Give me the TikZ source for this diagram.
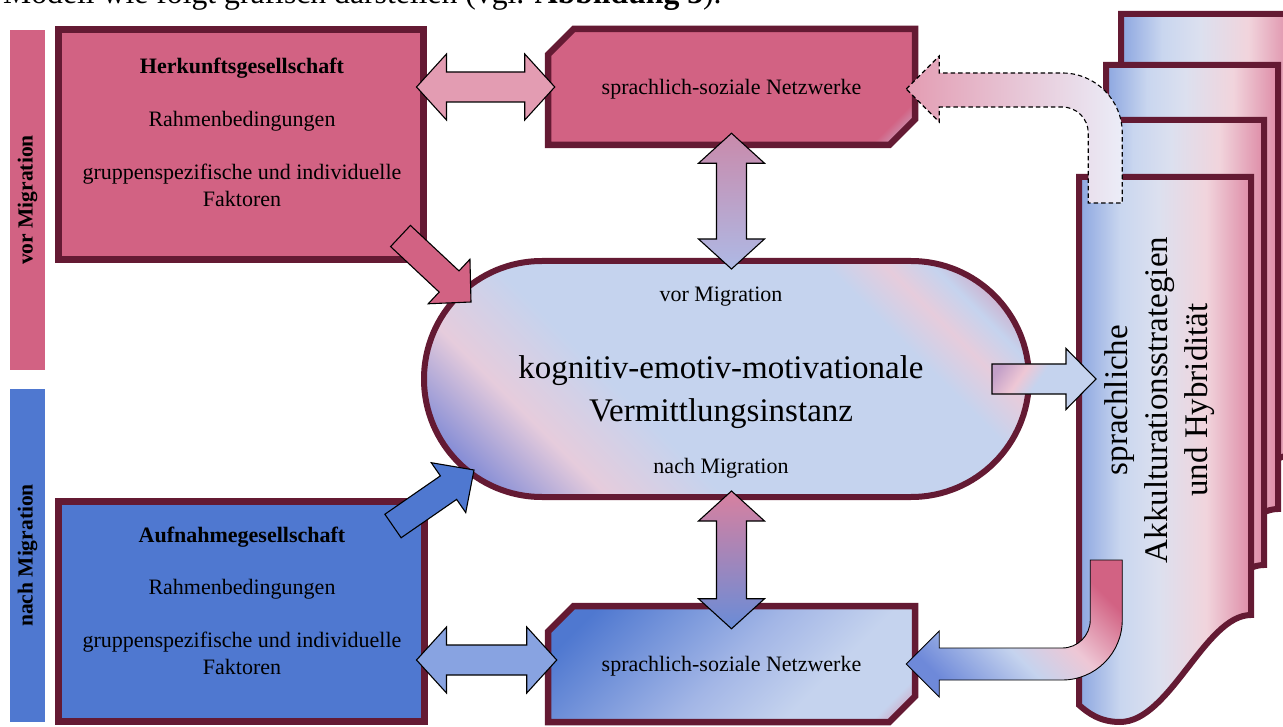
\documentclass[tikz,border=0pt]{standalone}
\usepackage{fontspec}
\setmainfont{Liberation Serif}
\usetikzlibrary{calc,shapes.misc}

% palette
\definecolor{rose}{HTML}{D26283}
\definecolor{royal}{HTML}{4F78D0}
\definecolor{wine}{HTML}{641A33}
\definecolor{paleblue}{HTML}{C5D3EE}
\definecolor{midblue}{HTML}{A3B6E6}
\definecolor{softrose}{HTML}{E39CB2}
\definecolor{softblue}{HTML}{88A3E1}
\definecolor{sheetA}{HTML}{8CA6E0}
\definecolor{sheetB}{HTML}{C9D6EF}
\definecolor{sheetC}{HTML}{DCE0EF}
\definecolor{sheetD}{HTML}{F1D4DC}
\definecolor{sheetE}{HTML}{DE8CA7}
\definecolor{violet}{HTML}{7F89D5}
\definecolor{blush}{HTML}{EEC7D5}
\definecolor{softblush}{HTML}{E6CCDC}
\definecolor{deeprose}{HTML}{D8809F}
\definecolor{mauve}{HTML}{C3A0C8}
\definecolor{pale}{HTML}{EBEDF8}
\definecolor{periwinkle}{HTML}{6E89D9}
\definecolor{pinkish}{HTML}{C98AAB}
\definecolor{lavender}{HTML}{AEB9E5}

% shadings
\pgfdeclarehorizontalshading{sheetshade}{100bp}{color(0bp)=(sheetA); color(25bp)=(sheetA); color(37bp)=(sheetB); color(48bp)=(sheetC); color(62bp)=(sheetD); color(75bp)=(sheetE); color(100bp)=(sheetE)}
\pgfdeclarehorizontalshading{hubshade}{100bp}{color(0bp)=(violet); color(20bp)=(violet); color(30bp)=(softblush); color(40bp)=(paleblue); color(68bp)=(paleblue); color(73bp)=(softblush); color(77bp)=(paleblue); color(84bp)=(deeprose); color(100bp)=(deeprose)}
\pgfdeclarehorizontalshading{roseboxshade}{100bp}{color(0bp)=(rose); color(79bp)=(rose); color(86bp)=(paleblue); color(100bp)=(paleblue)}
\pgfdeclarehorizontalshading{blueboxshade}{100bp}{color(0bp)=(royal); color(22bp)=(royal); color(50bp)=(midblue); color(66bp)=(paleblue); color(79bp)=(paleblue); color(86bp)=(deeprose); color(100bp)=(deeprose)}
\pgfdeclarehorizontalshading{pointershade}{100bp}{color(0bp)=(mauve); color(25bp)=(mauve); color(38bp)=(blush); color(48bp)=(paleblue); color(78bp)=(paleblue); color(86bp)=(blush); color(100bp)=(blush)}
\pgfdeclarehorizontalshading{returnshade}{100bp}{color(0bp)=(periwinkle); color(25bp)=(periwinkle); color(45bp)=(paleblue); color(58bp)=(blush); color(75bp)=(rose); color(100bp)=(rose)}

% straight block arrow from #2 to #3 (style #1, half shaft #4, half head #5, head length #6)
\newcommand{\blockarrow}[6]{%
  \coordinate (ba-s) at (#2);
  \coordinate (ba-e) at (#3);
  \coordinate (ba-h) at ($(ba-e)!#6!(ba-s)$);
  \path[#1] ($(ba-s)!#4!90:(ba-e)$) -- ($(ba-h)!#4!90:(ba-e)$) -- ($(ba-h)!#5!90:(ba-e)$)
    -- (ba-e) -- ($(ba-h)!#5!-90:(ba-e)$) -- ($(ba-h)!#4!-90:(ba-e)$) -- ($(ba-s)!#4!-90:(ba-e)$) -- cycle;}

% double-headed block arrow between #2 and #3
\newcommand{\twinarrow}[6]{%
  \coordinate (ta-s) at (#2);
  \coordinate (ta-e) at (#3);
  \coordinate (ta-h) at ($(ta-e)!#6!(ta-s)$);
  \coordinate (ta-g) at ($(ta-s)!#6!(ta-e)$);
  \path[#1] (ta-s) -- ($(ta-g)!#5!90:(ta-e)$) -- ($(ta-g)!#4!90:(ta-e)$) -- ($(ta-h)!#4!90:(ta-e)$)
    -- ($(ta-h)!#5!90:(ta-e)$) -- (ta-e) -- ($(ta-h)!#5!-90:(ta-e)$) -- ($(ta-h)!#4!-90:(ta-e)$)
    -- ($(ta-g)!#4!-90:(ta-e)$) -- ($(ta-g)!#5!-90:(ta-e)$) -- cycle;}

% one sheet of the stacked document (x offset, top edge, lower end of right edge)
\newcommand{\sheet}[3]{%
  \path[sheetstyle] (1079+#1,#2) -- (1251+#1,#2) -- (1251+#1,#3)
    .. controls (1205+#1,#3) and (1170+#1,#3+107) .. (1120+#1,#3+107)
    .. controls (1100+#1,#3+107) and (1088+#1,#3+98) .. (1079+#1,#3+90) -- cycle;}

\begin{document}
\begin{tikzpicture}[x=1pt,y=-1pt,
  txt/.style={font=\fontsize{22}{27}\selectfont, inner sep=0pt},
  bigtxt/.style={font=\fontsize{33}{40}\selectfont, inner sep=0pt},
  sidebar/.style={rotate=90, minimum height=35pt, inner sep=0pt, font=\fontsize{21.5}{25}\selectfont\bfseries},
  society/.style={draw=wine, line width=7pt, inner sep=0pt},
  network/.style={chamfered rectangle, chamfered rectangle corners={north west,south east},
    chamfered rectangle xsep=18pt, chamfered rectangle ysep=18pt, draw=wine, line width=6.5pt,
    minimum width=367pt, minimum height=116pt, inner sep=0pt, shade, shading angle=-45,
    text depth=0pt, font=\fontsize{22}{27}\selectfont},
  sheetstyle/.style={draw=wine, line width=6pt, shade, shading=sheetshade},
  arrowline/.style={draw=black, line width=1.1pt, line join=miter},
]
\useasboundingbox (0,0) rectangle (1283,727);

% running text above the figure
\node[anchor=base west, inner sep=0pt, font=\fontsize{31.7}{38}\selectfont] (lead) at (3,4)
  {Modell wie folgt grafisch darstellen (vgl. \textbf{Abbildung 3}).};

% phase bars
\node[sidebar, fill=rose, minimum width=340pt] (barpre) at (27.5,200) {vor Migration};
\node[sidebar, fill=royal, minimum width=333pt] (barpost) at (27.5,555.5) {nach Migration};

% societies
\node[society, fill=rose, minimum width=365pt, minimum height=230pt] (origin) at (241,144.5) {};
\node[society, fill=royal, minimum width=366pt, minimum height=220pt] (host) at (241.5,611.5) {};

\node[txt, anchor=base, font=\fontsize{22}{27}\selectfont\bfseries] (originname) at (242,74) {Herkunftsgesellschaft};
\node[txt, anchor=base] (originframe) at (242,127) {Rahmenbedingungen};
\node[txt, anchor=base] (originfactors) at (242,180) {gruppenspezifische und individuelle};
\node[txt, anchor=base] (originfactors2) at (242,207) {Faktoren};

\node[txt, anchor=base, font=\fontsize{22}{27}\selectfont\bfseries] (hostname) at (242,542) {Aufnahmegesellschaft};
\node[txt, anchor=base] (hostframe) at (242,594) {Rahmenbedingungen};
\node[txt, anchor=base] (hostfactors) at (242,647) {gruppenspezifische und individuelle};
\node[txt, anchor=base] (hostfactors2) at (242,674) {Faktoren};

% networks
\node[network, shading=roseboxshade] (nettop) at (731.5,87) {sprachlich-soziale Netzwerke};
\node[network, shading=blueboxshade] (netbot) at (731.5,664) {sprachlich-soziale Netzwerke};

% mediating instance
\node[draw=wine, line width=6pt, shade, shading=hubshade, shading angle=45,
  minimum width=605pt, minimum height=236pt, rounded corners=117.9pt] (hub) at (726.5,379) {};
\node[txt, anchor=base] (hubpre) at (721,302) {vor Migration};
\node[bigtxt, anchor=base] (hubtitle) at (721,379) {kognitiv-emotiv-motivationale};
\node[bigtxt, anchor=base] (hubtitle2) at (721,421) {Vermittlungsinstanz};
\node[txt, anchor=base] (hubpost) at (721,473) {nach Migration};

% stacked document of strategies
\sheet{42}{14}{455}
\sheet{27}{65}{509}
\sheet{13}{120}{565}
\sheet{0}{177}{615}
\coordinate (sheetwest) at (1079,400);
\node[bigtxt, rotate=90, align=center] (strategies) at (1160,400)
  {sprachliche\\Akkulturationsstrategien\\und Hybridität};

% returning arrows from the strategies to the networks
\draw[arrowline, dash pattern=on 4.5pt off 3pt, left color=softrose, right color=pale]
  ($(nettop.east)+(-12,2)$) -- ++(33,-33) -- ++(0,17) -- ++(123,0)
  .. controls +(33.1,0) and +(0,-33.1) .. ++(60,60) -- ++(0,70) -- ++(-34,0) -- ++(0,-70)
  .. controls +(0,-14.4) and +(14.4,0) .. ++(-26,-26) -- ++(-123,0) -- ++(0,15) -- cycle;
\draw[arrowline, line width=0.9pt, shade, shading=returnshade, shading angle=45]
  ($(netbot.east)+(-12,0)$) -- ++(33,-33) -- ++(0,17) -- ++(123,0)
  .. controls +(15.5,0) and +(0,15.5) .. ++(28,-28) -- ++(0,-60) -- ++(32,0) -- ++(0,60)
  .. controls +(0,33.1) and +(33.1,0) .. ++(-60,60) -- ++(-123,0) -- ++(0,17) -- cycle;

% exchange arrows
\twinarrow{arrowline, fill=softrose}{$(origin.east |- nettop.west)+(-10.5,0)$}{$(nettop.west)+(10,0)$}{15pt}{33pt}{30pt}
\twinarrow{arrowline, fill=softblue}{$(host.east |- netbot.west)+(-11.5,-4)$}{$(netbot.west)+(12,-4)$}{15pt}{33pt}{30pt}
\twinarrow{arrowline, top color=pinkish, bottom color=lavender}{$(nettop.south)+(0,-15)$}{$(nettop.south |- hub.north)+(0,11)$}{15pt}{33pt}{30pt}
\twinarrow{arrowline, top color=deeprose, bottom color=royal!85!white}{$(netbot.north |- hub.south)+(0,-9)$}{$(netbot.north)+(0,26)$}{15pt}{33pt}{30pt}

% influence arrows
\blockarrow{arrowline, fill=rose}{$(origin.south east)+(-26.5,-27)$}{$(hub.north west)+(50,44)$}{14.5pt}{30.5pt}{30pt}
\blockarrow{arrowline, fill=royal}{$(host.north east)+(-35,28)$}{$(hub.south west)+(53,-30)$}{14.3pt}{30.3pt}{31pt}
\blockarrow{arrowline, shade, shading=pointershade, shading angle=-35}{$(hub.east)+(-40,0)$}{$(hub.east -| sheetwest)+(17,0)$}{15pt}{30.5pt}{30pt}
\end{tikzpicture}
\end{document}
